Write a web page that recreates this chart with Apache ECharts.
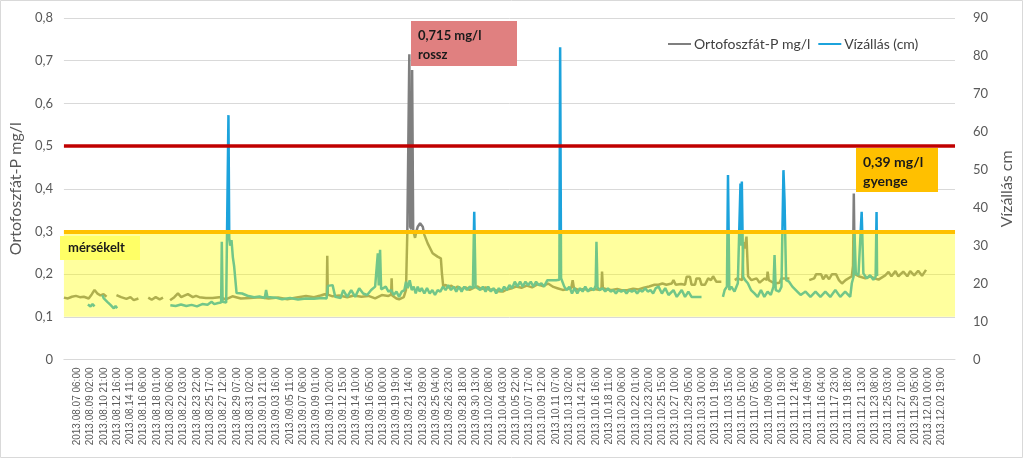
<!DOCTYPE html>
<html><head><meta charset="utf-8">
<script src="https://cdn.jsdelivr.net/npm/echarts@6/dist/echarts.min.js"></script>
<style>html,body{margin:0;padding:0;background:#fff}#c{width:1023px;height:458px}</style>
</head><body><div id="c"></div>
<script>
// Tick labels of the category (time) axis, one per labelled tick
const tickLabels = ['2013.08.07 06:00','2013.08.09 02:00','2013.08.10 21:00','2013.08.12 16:00','2013.08.14 11:00','2013.08.16 06:00','2013.08.18 01:00','2013.08.20 06:00','2013.08.22 03:00','2013.08.23 22:00','2013.08.25 17:00','2013.08.27 12:00','2013.08.29 07:00','2013.08.31 02:00','2013.09.01 21:00','2013.09.03 16:00','2013.09.05 11:00','2013.09.07 06:00','2013.09.09 01:00','2013.09.10 20:00','2013.09.12 15:00','2013.09.14 10:00','2013.09.16 05:00','2013.09.18 00:00','2013.09.19 19:00','2013.09.21 14:00','2013.09.23 09:00','2013.09.25 04:00','2013.09.26 23:00','2013.09.28 18:00','2013.09.30 13:00','2013.10.02 08:00','2013.10.04 03:00','2013.10.05 22:00','2013.10.07 17:00','2013.10.09 12:00','2013.10.11 07:00','2013.10.13 02:00','2013.10.14 21:00','2013.10.16 16:00','2013.10.18 11:00','2013.10.20 06:00','2013.10.22 01:00','2013.10.23 20:00','2013.10.25 15:00','2013.10.27 10:00','2013.10.29 05:00','2013.10.31 00:00','2013.11.01 19:00','2013.11.03 15:00','2013.11.05 10:00','2013.11.07 05:00','2013.11.09 00:00','2013.11.10 19:00','2013.11.12 14:00','2013.11.14 09:00','2013.11.16 04:00','2013.11.17 23:00','2013.11.19 18:00','2013.11.21 13:00','2013.11.23 08:00','2013.11.25 03:00','2013.11.27 10:00','2013.11.29 05:00','2013.12.01 00:00','2013.12.02 19:00'];

// Ortofoszfát-P (mg/l): [position in tick-label units, value]; '-' = gap
const phosphate = [
[-1.0,0.145],[-0.7,0.143],[-0.4,0.147],[-0.1,0.149],[0.2,0.146],[0.5,0.147],[0.86,0.143],[1.1,0.153],[1.3,0.163],[1.4,0.165],[1.5,0.155],[1.75,0.150],[1.98,0.153],[2.2,0.147],[2.3,'-'],
[2.95,0.151],[3.3,0.146],[3.7,0.142],[4.0,0.146],[4.25,0.139],[4.6,0.143],[4.7,'-'],
[5.34,0.145],[5.6,0.140],[5.9,0.146],[6.2,0.141],[6.45,0.145],[6.6,'-'],
[6.98,0.139],[7.3,0.146],[7.57,0.155],[7.82,0.146],[8.1,0.150],[8.32,0.153],[8.69,0.146],[8.93,0.149],[9.18,0.146],[9.68,0.144],[10.18,0.144],[10.68,0.146],[11.17,0.141],[11.67,0.148],[12.3,0.143],[13.0,0.144],[13.7,0.146],[14.4,0.143],[15.1,0.145],[15.8,0.141],[16.5,0.145],[17.2,0.149],[17.8,0.146],[18.3,0.150],[18.6,0.153],[18.76,0.150],[18.8,0.243],[18.84,0.152],[19.2,0.148],[19.7,0.150],[20.3,0.146],[20.8,0.150],[21.36,0.147],
[21.9,0.149],[22.4,0.143],[22.9,0.151],[23.4,0.149],[23.6,0.152],[23.64,0.190],[23.68,0.150],[24.0,0.143],[24.2,0.141],[24.55,0.146],
[24.72,0.163],[24.82,0.300],[24.90,0.303],[24.97,0.715],[25.03,0.311],[25.12,0.305],[25.18,0.678],[25.26,0.303],[25.40,0.285],[25.50,0.300],[25.60,0.311],[25.78,0.319],[25.98,0.311],[26.10,0.292],[26.35,0.272],[26.72,0.249],[27.09,0.241],[27.34,0.237],[27.42,0.202],[27.52,0.171],
[27.7,0.175],[27.9,0.168],[28.1,0.173],[28.4,0.167],[28.6,0.171],[28.9,0.165],[29.2,0.169],[29.5,0.163],[29.8,0.168],[30.1,0.171],[30.4,0.165],[30.7,0.169],[31.0,0.163],[31.3,0.165],[31.6,0.160],[32.0,0.159],[32.3,0.164],[32.7,0.167],[33.0,0.171],[33.4,0.168],[33.8,0.173],[34.2,0.169],[34.6,0.176],[35.0,0.172],[35.4,0.178],[35.8,0.170],[36.1,0.167],[36.5,0.163],[36.9,0.165],[37.15,0.168],[37.25,0.186],[37.35,0.167],[37.7,0.163],[38.1,0.165],[38.5,0.162],[38.9,0.165],[39.3,0.163],[39.42,0.168],[39.46,0.206],[39.52,0.168],[39.8,0.164],[40.2,0.163],[40.6,0.165],[41.0,0.162],[41.4,0.163],[41.8,0.166],[42.2,0.164],[42.6,0.168],[43.0,0.171],[43.4,0.175],
[43.71,0.175],[44.0,0.178],[44.3,0.175],[44.7,0.178],[44.83,0.186],[45.0,0.175],[45.4,0.177],[45.7,0.175],[45.82,0.194],[46.07,0.194],[46.19,0.175],[46.45,0.175],[46.56,0.190],[46.8,0.190],[46.94,0.175],[47.2,0.175],[47.44,0.190],[47.65,0.186],[47.81,0.195],[48.06,0.182],[48.43,0.182],[48.5,'-'],
[49.44,0.186],[49.63,0.190],[50.0,0.186],[50.1,0.275],[50.2,0.260],[50.32,0.288],[50.44,0.195],[50.69,0.186],[51.08,0.190],[51.31,0.180],[51.69,0.190],[51.85,0.186],[51.91,0.206],[52.0,0.186],[52.13,0.182],[52.43,0.178],[52.80,0.180],[52.95,0.190],[53.55,0.190],[53.6,'-'],
[55.04,0.186],[55.41,0.190],[55.56,0.200],[55.93,0.200],[56.08,0.188],[56.30,0.198],[56.53,0.188],[56.75,0.200],[57.05,0.200],[57.27,0.186],[57.50,0.178],[57.77,0.186],[58.24,0.195],[58.33,0.220],[58.39,0.389],[58.46,0.200],[58.76,0.195],[59.26,0.190],[59.63,0.195],[59.95,0.190],[60.25,0.187],[60.75,0.197],[61.0,0.205],[61.22,0.195],[61.52,0.207],[61.74,0.195],[62.11,0.206],[62.41,0.195],[62.63,0.207],[62.93,0.197],[63.23,0.208],[63.52,0.196],[63.82,0.210]
];

// Vízállás (cm): [position in tick-label units, value]; '-' = gap
const waterLevel = [
[0.8,14.5],[1.0,14.0],[1.15,14.6],[1.3,14.0],[1.35,'-'],
[1.89,17.0],[2.0,16.1],[2.13,16.5],[2.26,15.2],[2.38,15.4],[2.50,14.4],[2.63,14.6],[2.75,13.5],[2.88,14.1],[3.0,13.5],[3.1,'-'],
[7.0,14.3],[7.4,14.1],[7.8,14.5],[8.2,14.1],[8.6,14.4],[9.0,14.0],[9.4,14.6],[9.8,14.4],[10.1,15.2],[10.3,14.6],[10.6,14.9],[10.82,15.0],[10.87,31.0],[10.93,15.2],[11.2,15.0],[11.32,15.5],[11.37,64.4],[11.43,32.0],[11.5,30.0],[11.6,31.5],[11.7,27.0],[11.8,24.5],[11.9,24.0],[11.98,17.5],[12.1,17.0],[12.4,17.4],[12.8,16.8],[13.3,16.4],[13.7,16.6],[14.1,16.2],[14.2,18.3],[14.3,16.5],[14.9,16.3],[15.4,15.9],[16.0,16.2],[16.6,15.8],[17.2,16.1],[17.8,16.0],[18.4,16.2],[18.75,16.1],[18.85,19.4],[19.2,19.6],[19.4,16.5],[19.8,16.2],[20.0,18.3],[20.3,16.5],[20.6,18.3],[20.9,16.5],[21.2,18.8],[21.5,17.4],[21.8,17.0],[22.1,18.3],[22.4,19.2],[22.55,19.0],[22.6,28.0],[22.67,19.5],[22.77,28.9],[22.85,18.5],
[23.0,18.8],[23.2,19.2],[23.4,17.9],[23.6,18.3],[23.8,17.0],[24.0,17.9],[24.2,16.5],[24.4,17.9],[24.6,18.3],[24.72,20.5],[24.85,18.8],[25.0,20.9],[25.15,18.3],[25.3,19.2],[25.45,17.4],[25.6,19.2],[25.75,17.9],[25.9,18.8],[26.1,17.4],[26.3,18.8],[26.5,17.4],[26.7,18.3],[26.9,17.0],[27.1,18.3],[27.3,17.9],[27.5,19.2],[27.7,18.3],[27.9,19.6],[28.1,18.3],[28.3,19.2],[28.5,17.9],[28.7,19.2],[28.9,17.9],[29.1,19.2],[29.3,18.3],[29.5,19.2],[29.75,18.8],[29.85,38.9],[29.95,19.2],[30.1,19.6],[30.3,18.3],[30.5,19.2],[30.7,17.9],[30.9,19.2],[31.1,17.9],[31.3,18.8],[31.5,17.4],[31.7,18.8],[31.9,17.9],[32.1,19.2],[32.3,18.3],[32.5,19.6],[32.7,18.8],[32.9,20.5],[33.1,19.2],[33.3,20.5],[33.5,19.2],[33.7,20.5],[33.9,19.6],[34.1,20.5],[34.3,19.2],[34.5,20.5],[34.7,19.6],[34.9,20.1],[35.1,19.2],[35.35,20.9],[35.7,20.9],[36.0,20.9],[36.25,21.0],[36.31,82.3],[36.38,21.4],[36.5,21.4],[36.62,19.2],[36.8,18.3],[37.0,19.2],[37.2,17.4],[37.4,18.8],[37.6,17.4],[37.8,18.8],[38.0,17.9],[38.2,19.2],[38.4,17.9],[38.6,18.8],[38.85,18.3],[38.98,19.5],[39.04,31.0],[39.12,19.0],[39.3,18.3],[39.5,18.8],[39.7,17.9],[39.9,18.8],[40.1,17.9],[40.3,18.3],[40.5,17.4],[40.7,18.3],[40.9,17.9],[41.1,18.3],[41.3,17.4],[41.5,18.3],[41.7,17.9],[41.9,18.3],[42.1,17.4],[42.3,18.3],[42.5,17.9],[42.7,18.8],[42.9,17.9],[43.1,18.3],[43.3,17.4],[43.5,18.8],[43.71,19.2],
[43.96,17.4],[44.21,18.8],[44.46,17.0],[44.83,18.3],[45.08,16.5],[45.45,18.3],[45.70,16.5],[45.95,17.9],[46.19,16.5],[46.56,16.5],[46.94,16.5],[47.0,'-'],
[48.55,16.5],[48.68,18.3],[48.85,19.2],[48.93,48.6],[49.03,18.3],[49.18,19.2],[49.42,17.9],[49.67,20.1],[49.87,46.4],[49.92,30.0],[49.97,46.9],[50.07,21.8],[50.22,20.9],[50.42,20.1],[50.66,18.3],[50.92,17.4],[51.16,16.5],[51.41,18.3],[51.66,16.5],[51.91,17.9],[52.15,17.0],[52.35,19.2],[52.43,27.5],[52.52,18.3],[52.78,17.9],[52.95,19.2],[53.10,49.9],[53.18,42.0],[53.30,20.9],[53.52,20.5],[53.77,19.2],[54.14,17.9],[54.39,17.0],[54.76,17.9],[55.13,16.5],[55.51,17.9],[55.88,16.5],[56.25,17.9],[56.62,16.5],[57.0,18.3],[57.37,16.5],[57.74,17.9],[58.12,16.5],[58.24,20.1],[58.37,21.8],[58.44,33.7],[58.54,22.7],[58.74,22.2],[58.86,22.7],[58.98,38.9],[59.11,22.7],[59.36,21.4],[59.61,22.2],[59.86,21.0],[60.03,21.8],[60.10,38.9],[60.14,22.0]
];

// Quality class limits (mg/l)
const moderateBand = [0.1, 0.3];
const moderateLimit = 0.3;
const badLimit = 0.5;
const seriesNames = ['Ortofoszfát-P mg/l', 'Vízállás (cm)'];

const font = 'Lato, "Liberation Sans", sans-serif';
const chart = echarts.init(document.getElementById('c'));
chart.setOption({
  animation: false,
  textStyle: { fontFamily: font },
  grid: { left: 58, right: 66, top: 18, bottom: 98.5, containLabel: false },
  legend: {
    data: seriesNames, left: 663, top: 32, icon: 'rect', itemWidth: 23, itemHeight: 2, itemGap: 8,
    textStyle: { fontSize: 14, color: '#404040', fontFamily: font, padding: [0, 0, 0, -2] }
  },
  xAxis: {
    type: 'value', min: -1, max: 66, interval: 1,
    axisLine: { show: true, lineStyle: { color: '#D9D9D9' } },
    axisTick: { show: false }, splitLine: { show: false },
    axisLabel: {
      rotate: 90, fontSize: 10, color: '#595959', fontFamily: '"Liberation Sans", sans-serif', margin: 8,
      formatter: v => tickLabels[v] || ''
    }
  },
  yAxis: [{
    type: 'value', min: 0, max: 0.8, interval: 0.1,
    name: 'Ortofoszfát-P mg/l', nameLocation: 'middle', nameGap: 36, nameRotate: 90,
    nameTextStyle: { fontSize: 16, color: '#595959', fontFamily: font },
    axisLine: { show: false }, axisTick: { show: false },
    axisLabel: { fontSize: 13, color: '#595959', margin: 11, formatter: v => v === 0 ? '0' : v.toFixed(1).replace('.', ',') },
    splitLine: { lineStyle: { color: '#D9D9D9' } }
  }, {
    type: 'value', min: 0, max: 90, interval: 10, position: 'right',
    name: 'Vízállás cm', nameLocation: 'middle', nameGap: 34, nameRotate: 90,
    nameTextStyle: { fontSize: 16, color: '#595959', fontFamily: font },
    axisLine: { show: false }, axisTick: { show: false },
    axisLabel: { fontSize: 13, color: '#595959', margin: 18 },
    splitLine: { show: false }
  }],
  series: [{
    name: seriesNames[0], type: 'line', yAxisIndex: 0, data: phosphate, showSymbol: false, symbol: 'none',
    connectNulls: false, lineStyle: { color: '#7F7F7F', width: 2.5 }, itemStyle: { color: '#7F7F7F' }, z: 2
  }, {
    name: seriesNames[1], type: 'line', yAxisIndex: 1, data: waterLevel, showSymbol: false, symbol: 'none',
    connectNulls: false, lineStyle: { color: '#1CA3DC', width: 2.5 }, itemStyle: { color: '#1CA3DC' }, z: 3
  }, {
    name: 'limits', type: 'line', yAxisIndex: 0, data: [], z: 5, silent: true,
    markArea: { silent: true, z: 10, itemStyle: { color: 'rgba(255,255,0,0.38)' },
      data: [[{ xAxis: -1, yAxis: moderateBand[0] }, { xAxis: 66, yAxis: moderateBand[1] }]] },
    markLine: { silent: true, z: 11, symbol: 'none', label: { show: false },
      data: [
        { yAxis: moderateLimit, lineStyle: { color: '#FFC000', width: 4, type: 'solid' } },
        { yAxis: badLimit, lineStyle: { color: '#C00000', width: 3.5, type: 'solid' } }
      ] }
  }],
  graphic: [
    { type: 'rect', silent: true, z: 0, shape: { x: 0.5, y: 0.5, width: 1022, height: 457 }, style: { fill: 'none', stroke: '#D9D9D9', lineWidth: 1 } },
    { type: 'rect', z: 100, shape: { x: 411, y: 21, width: 106, height: 45 }, style: { fill: '#E08080' } },
    { type: 'text', z: 101, x: 418, y: 26, style: { text: '0,715 mg/l\nrossz', font: 'bold 13px Lato, sans-serif', fill: '#1a1a1a', lineHeight: 19 } },
    { type: 'rect', z: 100, shape: { x: 856, y: 148, width: 82, height: 44 }, style: { fill: '#FFC000' } },
    { type: 'text', z: 101, x: 863, y: 153, style: { text: '0,39 mg/l\ngyenge', font: 'bold 14px Lato, sans-serif', fill: '#1a1a1a', lineHeight: 19 } },
    { type: 'rect', z: 100, shape: { x: 60, y: 236, width: 80, height: 24 }, style: { fill: '#FFFF66' } },
    { type: 'text', z: 101, x: 68, y: 241, style: { text: 'mérsékelt', font: 'bold 13px Lato, sans-serif', fill: '#1a1a1a' } }
  ]
});
</script>
</body></html>
